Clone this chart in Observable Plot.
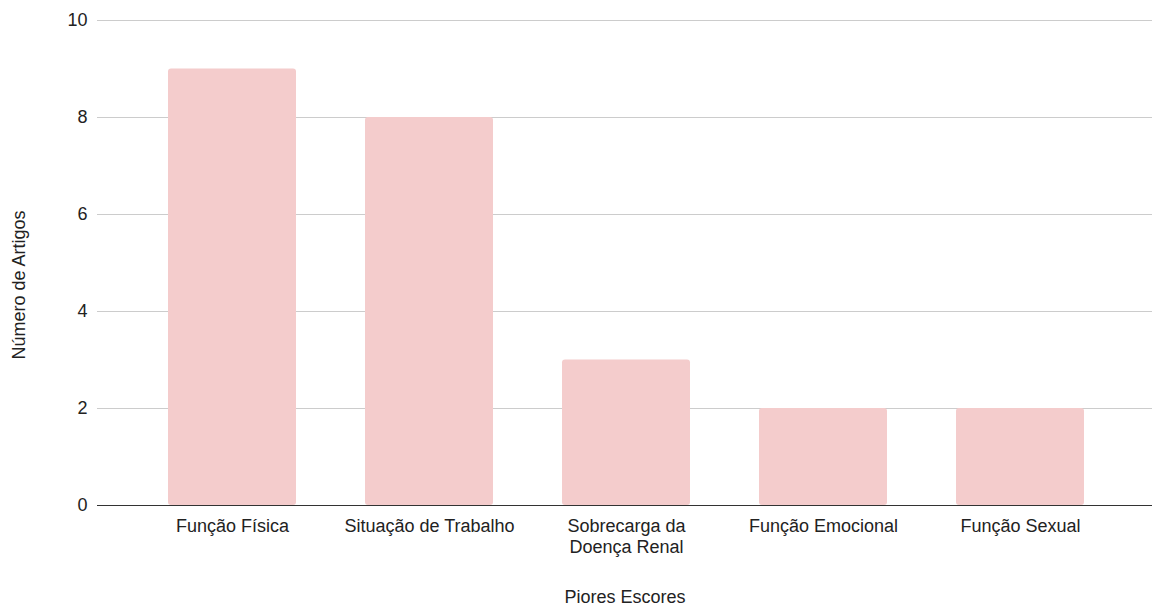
<!DOCTYPE html>
<html>
<head>
<meta charset="utf-8">
<script src="https://cdn.jsdelivr.net/npm/d3@7"></script>
<script src="https://cdn.jsdelivr.net/npm/@observablehq/plot@0.6"></script>
<style>
  html, body { margin: 0; padding: 0; background: #ffffff; }
  #chart svg { display: block; }
</style>
</head>
<body>
<div id="chart"></div>
<script>
// Categories (tick labels) and number of articles for each
const categories = [
  "Função Física",
  "Situação de Trabalho",
  "Sobrecarga da\nDoença Renal",
  "Função Emocional",
  "Função Sexual"
];
const articles = [9, 8, 3, 2, 2];
const yTicks = [0, 2, 4, 6, 8, 10];
const xTitle = "Piores Escores";
const yTitle = "Número de Artigos";

const rows = categories.map((c, i) => ({category: c, value: articles[i]}));

const chart = Plot.plot({
  width: 1152,
  height: 608,
  marginTop: 20,
  marginBottom: 103,
  marginLeft: 97,
  marginRight: 0,
  style: {fontFamily: "'Liberation Sans', Arial, sans-serif", fontSize: "18px", color: "#222"},
  x: {domain: categories, paddingInner: 0.352, paddingOuter: 0.345, align: 0.512, label: null},
  y: {domain: [0, 10], label: null},
  marks: [
    Plot.gridY(yTicks, {stroke: "#cccccc", strokeOpacity: 1, strokeWidth: 1}),
    Plot.barY(rows, {x: "category", y: "value", fill: "#f4cccc", rx: 3}),
    Plot.ruleY([0], {stroke: "#333333", strokeWidth: 1}),
    Plot.axisY(yTicks, {tickSize: 0, tickPadding: 10, label: null, fill: "#222"}),
    Plot.axisX({tickSize: 0, tickPadding: 12, label: null, fill: "#222", lineHeight: 1.15}),
    Plot.text([yTitle], {frameAnchor: "left", textAnchor: "middle", dx: -78, dy: 22, rotate: -90, fill: "#222", fontSize: 18}),
    Plot.text([xTitle], {frameAnchor: "bottom", dy: 97, fill: "#222", fontSize: 18})
  ]
});

document.getElementById("chart").appendChild(chart);
</script>
</body>
</html>
